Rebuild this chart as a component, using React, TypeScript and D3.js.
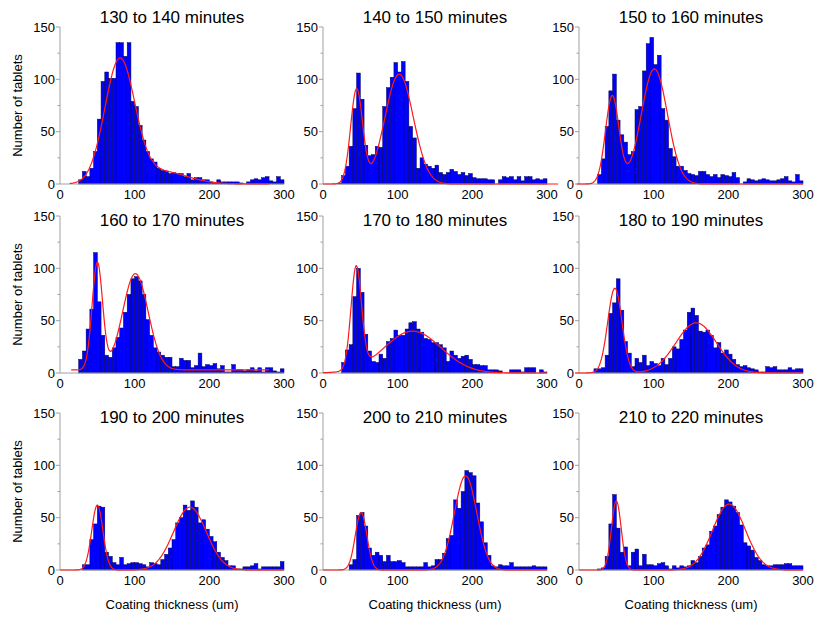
import React, { useEffect, useRef } from 'react';
import * as d3 from 'd3';

const titles = [
  '130 to 140 minutes', '140 to 150 minutes', '150 to 160 minutes',
  '160 to 170 minutes', '170 to 180 minutes', '180 to 190 minutes',
  '190 to 200 minutes', '200 to 210 minutes', '210 to 220 minutes',
];

// counts per 5 um bin, 0-5 ... 295-300
const counts130 = [0,0,0,0,0, 4,12,7,15,31, 62,98,107,101,101, 135,135,122,135,79, 74,56,42,31,24, 21,15,13,12,10, 11,10,10,7,10, 4,6,6,4,4, 2,1,4,2,2, 2,2,2,1,0, 2,4,5,4,6, 7,3,2,7,4];
const counts140 = [0,0,0,0,1, 8,17,36,72,106, 81,37,27,28,36, 35,74,92,102,116, 107,117,98,55,44, 15,25,19,17,15, 18,11,9,11,14, 12,9,11,8,10, 6,5,5,5,4, 4,0,4,7,6, 7,4,7,3,7, 7,4,5,4,5];
const counts150 = [0,0,0,0,0, 9,24,55,89,105, 61,47,40,28,31, 71,74,108,134,140, 114,123,72,61,34, 26,17,17,13,10, 9,8,12,12,9, 7,9,6,9,8, 7,11,6,0,2, 5,4,3,4,5, 4,3,3,4,5, 7,3,2,9,3];
const counts160 = [0,0,0,0,0, 13,21,42,61,115, 68,36,17,15,24, 34,43,58,75,90, 92,88,75,51,36, 24,20,17,15,15, 6,6,14,12,12, 5,7,19,6,8, 7,9,4,7,1, 1,8,3,3,2, 3,5,2,5,1, 5,5,2,1,4];
const counts170 = [0,0,0,0,0, 10,22,27,73,100, 77,37,21,11,10, 18,14,30,33,41, 36,36,42,48,49, 42,39,33,32,29, 29,27,24,11,21, 17,14,16,17,13, 8,8,7,7,3, 3,3,2,0,0, 3,3,3,1,5, 5,5,0,3,1];
const counts180 = [0,0,0,0,4, 4,5,17,57,67, 90,60,30,19,6, 14,10,17,7,11, 9,7,14,8,14, 25,23,32,41,58, 62,55,40,39,41, 36,24,29,19,22, 18,13,8,6,7, 5,4,3,1,1, 6,5,6,3,3, 3,5,3,4,4];
const counts190 = [0,0,0,0,0, 0,5,5,29,44, 61,60,17,13,7, 5,12,5,6,7, 7,6,5,3,7, 6,5,10,15,21, 29,45,50,62,57, 66,60,45,48,39, 32,27,17,12,9, 4,4,1,1,3, 3,4,6,1,3, 3,3,3,3,8];
const counts200 = [0,0,0,0,0, 0,0,5,10,52, 55,42,21,14,17, 14,8,14,8,8, 9,7,3,3,3, 3,3,7,3,4, 10,10,16,30,33, 67,59,75,95,93, 90,64,46,26,14, 4,3,5,4,4, 7,3,3,3,3, 3,4,3,3,3];
const counts210 = [0,0,0,0,0, 1,2,13,44,72, 40,17,22,4,17, 20,4,15,5,5, 4,6,7,4,1, 4,2,4,3,4, 9,7,13,21,24, 37,42,53,60,67, 65,61,55,43,26, 23,19,12,9,5, 4,4,5,5,5, 6,6,4,4,4];

// fitted peaks: [centre, spread, height]
const fit130 = [[80, 20, 117], [135, 35, 12]];
const fit140 = [[45, 8, 90], [102, 19, 105]];
const fit150 = [[44.5, 9, 84], [101, 17.5, 110]];
const fit160 = [[50, 7, 102], [101, 17, 92]];
const fit170 = [[44.5, 7, 97], [120, 38, 40]];
const fit180 = [[48, 9.5, 81], [157, 27, 48]];
const fit190 = [[50, 7.5, 62], [174, 22, 60]];
const fit200 = [[51, 7.7, 55], [191, 15, 90]];
const fit210 = [[50, 6.5, 66], [201, 22, 63]];
const fitBase = [0, 0, 0, 3, 0, 0, 0, 0, 0];
const fitRange = [[13, 280], [0, 315], [-3, 300], [15, 280], [0, 300], [-5, 300], [0, 300], [0, 300], [0, 300]];

const allCounts = [counts130, counts140, counts150, counts160, counts170, counts180, counts190, counts200, counts210];
const allFits = [fit130, fit140, fit150, fit160, fit170, fit180, fit190, fit200, fit210];

const xTicks = [0, 100, 200, 300];
const yTicks = [0, 50, 100, 150];
const yMinor = [25, 75, 125];
const binWidth = 5;

const colX = [60, 323, 579];
const rowTop = [27, 216, 413];
const plotW = 224;
const plotH = 157;
const font = 'Liberation Sans, Arial, sans-serif';
const axisColor = '#a0a0a0';

const draw = (node: SVGSVGElement) => {
  const svg = d3.select(node);
  svg.selectAll('*').remove();

  allCounts.forEach((counts, p) => {
    const col = p % 3;
    const row = Math.floor(p / 3);
    const x = d3.scaleLinear().domain([0, 300]).range([colX[col], colX[col] + plotW]);
    const y = d3.scaleLinear().domain([0, 150]).range([rowTop[row] + plotH, rowTop[row]]);
    const g = svg.append('g');

    // histogram bars
    g.selectAll('rect')
      .data(counts.map((c, i) => ({ c, i })).filter((d) => d.c > 0))
      .enter()
      .append('rect')
      .attr('x', (d) => x(d.i * binWidth))
      .attr('y', (d) => y(d.c))
      .attr('width', x(binWidth) - x(0))
      .attr('height', (d) => y(0) - y(d.c))
      .attr('fill', '#0000ff')
      .attr('stroke', '#00005a')
      .attr('stroke-width', 0.5);

    // axes
    g.append('line')
      .attr('x1', x(0)).attr('x2', x(300))
      .attr('y1', y(0)).attr('y2', y(0))
      .attr('stroke', axisColor);
    g.append('line')
      .attr('x1', x(0)).attr('x2', x(0))
      .attr('y1', y(0)).attr('y2', y(150))
      .attr('stroke', axisColor);
    yTicks.forEach((t) => {
      g.append('line')
        .attr('x1', x(0) - 4).attr('x2', x(0))
        .attr('y1', y(t)).attr('y2', y(t))
        .attr('stroke', axisColor);
      g.append('text')
        .attr('x', x(0) - 5).attr('y', y(t))
        .attr('dy', '0.35em')
        .attr('text-anchor', 'end')
        .attr('font-size', 13)
        .attr('font-family', font)
        .text(t);
    });
    yMinor.forEach((t) => {
      g.append('line')
        .attr('x1', x(0) - 2.5).attr('x2', x(0))
        .attr('y1', y(t)).attr('y2', y(t))
        .attr('stroke', axisColor);
    });
    xTicks.forEach((t) => {
      g.append('text')
        .attr('x', x(t)).attr('y', y(0) + 15)
        .attr('text-anchor', 'middle')
        .attr('font-size', 13)
        .attr('font-family', font)
        .text(t);
    });

    // fitted curve
    const fit = allFits[p];
    const f = (v: number) =>
      fitBase[p] + d3.sum(fit, (c) => c[2] * Math.exp(-((v - c[0]) ** 2) / (2 * c[1] * c[1])));
    const xs = d3.range(fitRange[p][0], fitRange[p][1] + 0.5, 1);
    const line = d3.line<number>().x((v) => x(v)).y((v) => y(f(v)));
    g.append('path')
      .attr('d', line(xs))
      .attr('fill', 'none')
      .attr('stroke', '#ff1a1a')
      .attr('stroke-width', 1.2);

    // title
    g.append('text')
      .attr('x', x(150))
      .attr('y', row === 0 ? rowTop[row] - 4 : rowTop[row] + 10)
      .attr('text-anchor', 'middle')
      .attr('font-size', 17)
      .attr('font-family', font)
      .text(titles[p]);

    if (col === 0) {
      g.append('text')
        .attr('transform', `translate(22, ${rowTop[row] + plotH / 2}) rotate(-90)`)
        .attr('text-anchor', 'middle')
        .attr('font-size', 13)
        .attr('font-family', font)
        .text('Number of tablets');
    }
    if (row === 2) {
      g.append('text')
        .attr('x', x(150))
        .attr('y', 609)
        .attr('text-anchor', 'middle')
        .attr('font-size', 13)
        .attr('font-family', font)
        .text('Coating thickness (um)');
    }
  });
};

export default function App() {
  const ref = useRef<SVGSVGElement>(null);
  useEffect(() => {
    if (ref.current) draw(ref.current);
  }, []);
  return (
    <svg
      ref={ref}
      width={814}
      height={618}
      style={{ position: 'absolute', left: 0, top: 0, background: '#fff' }}
    />
  );
}
